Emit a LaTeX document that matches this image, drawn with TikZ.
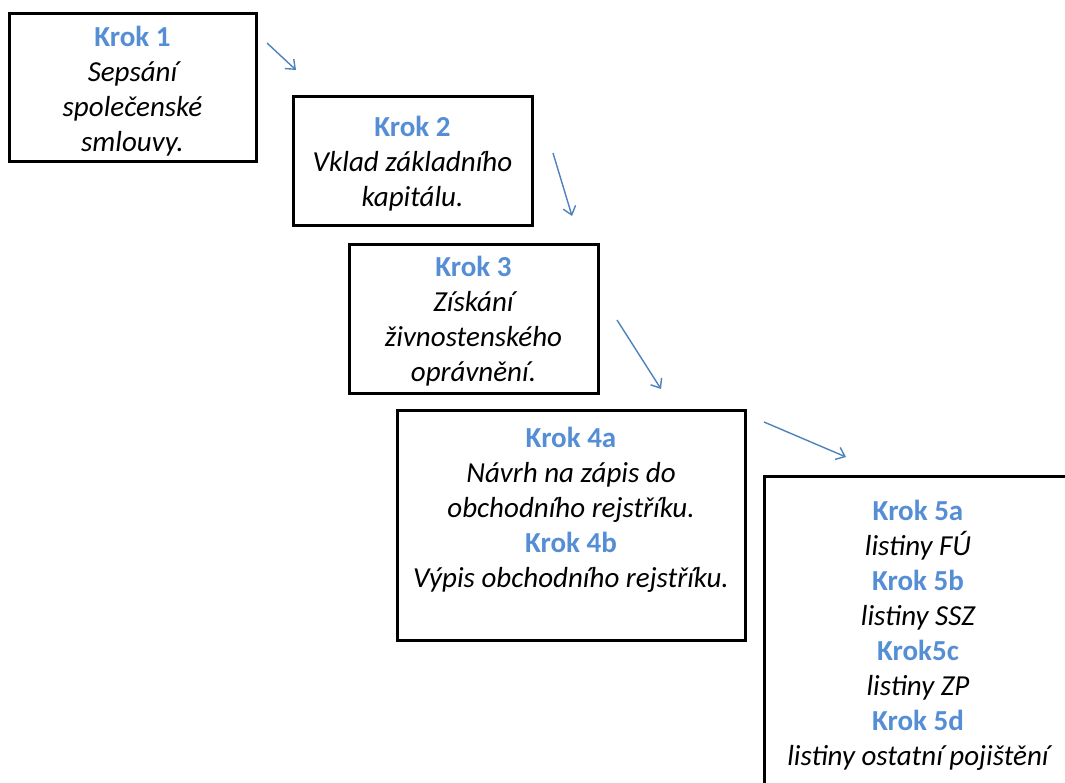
\documentclass[tikz,border=0pt]{standalone}
\usepackage{fontspec}
\setmainfont{Carlito}
\usetikzlibrary{shapes,positioning,calc,arrows,arrows.meta}

\definecolor{krokmodra}{HTML}{558ED5}
\definecolor{sipka}{HTML}{4F81BD}

\tikzset{
    krokbox/.style={rectangle,draw=black,line width=3pt,inner sep=0pt},
    popis/.style={align=center,inner sep=0pt,
        font=\fontsize{29}{35}\selectfont\itshape},
    sipkastyl/.style={draw=sipka,line width=1.4pt,
        -{Straight Barb[length=8pt,width=13pt]}}
}
\newcommand{\krok}[1]{{\upshape\bfseries\color{krokmodra}#1}}

\begin{document}
\begin{tikzpicture}[x=1pt, y=-1pt, every node/.style={} ]
    \useasboundingbox (0,0) rectangle (1065,783);
    \clip (0,0) rectangle (1065,783);

    % ramecky
    \node[krokbox,minimum width=247pt,minimum height=148pt] (k1) at (132.5,88) {};
    \node[krokbox,minimum width=239pt,minimum height=129pt] (k2) at (412.5,161.5) {};
    \node[krokbox,minimum width=249pt,minimum height=148pt] (k3) at (473.5,319) {};
    \node[krokbox,minimum width=348pt,minimum height=230pt] (k4) at (571,525) {};
    \node[krokbox,minimum width=308pt,minimum height=314pt] (k5) at (918,633) {};

    % texty
    \node[popis,yshift=-3pt] (t1) at (k1) {\krok{Krok 1}\\Sepsání\\společenské\\smlouvy.};
    \node[popis,yshift=-2pt] (t2) at (k2) {\krok{Krok 2}\\Vklad základního\\kapitálu.};
    \node[popis,yshift=-2pt] (t3) at (k3) {\krok{Krok 3}\\Získání\\živnostenského\\oprávnění.};
    \node[popis,below=18pt of k4.north] (t4)
        {\krok{Krok 4a}\\Návrh na zápis do\\obchodního rejstříku.\\
         \krok{Krok 4b}\\Výpis obchodního rejstříku.};
    \node[popis,yshift=-2pt] (t5) at (k5)
        {\krok{Krok 5a}\\listiny FÚ\\\krok{Krok 5b}\\listiny SSZ\\
         \krok{Krok5c}\\listiny ZP\\\krok{Krok 5d}\\listiny ostatní pojištění};

    % sipky
    \coordinate (s1) at (267,43);  \coordinate (e1) at (296,70);
    \coordinate (s2) at (553,153); \coordinate (e2) at (572,216);
    \coordinate (s3) at (617,320); \coordinate (e3) at (661,389);
    \coordinate (s4) at (764,422); \coordinate (e4) at (846,457);
    \foreach \i in {1,...,4}
    {
        \draw[sipkastyl] (s\i) -- (e\i);
    }

\end{tikzpicture}
\end{document}
